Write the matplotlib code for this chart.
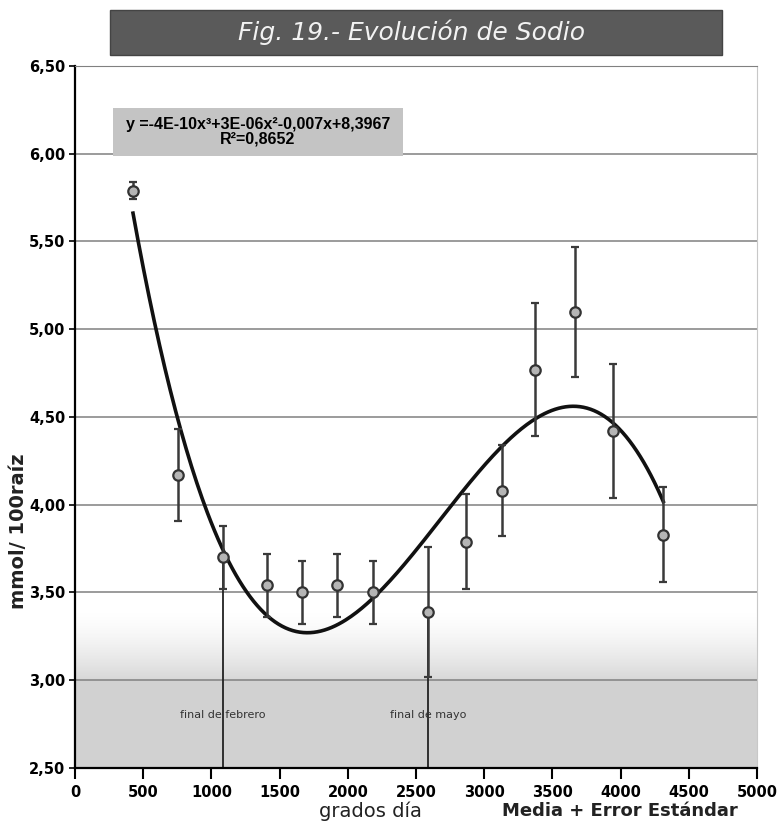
import numpy as np
import matplotlib.pyplot as plt
from matplotlib.patches import Rectangle
from matplotlib.ticker import FuncFormatter

# grados día acumulados, sodio medio (mmol/100 raíz) y error estándar
grados_dia = [425, 752, 1083, 1405, 1666, 1923, 2187, 2586, 2864, 3133, 3372, 3666, 3942, 4313]
sodio = [5.79, 4.17, 3.70, 3.54, 3.50, 3.54, 3.50, 3.39, 3.79, 4.08, 4.77, 5.10, 4.42, 3.83]
error_est = [0.05, 0.26, 0.18, 0.18, 0.18, 0.18, 0.18, 0.37, 0.27, 0.26, 0.38, 0.37, 0.38, 0.27]

# fechas de referencia (índice del muestreo que marcan)
marcas = ["final de febrero", "final de mayo"]
marcas_idx = [2, 7]

ecuacion = "y =-4E-10x³+3E-06x²-0,007x+8,3967\nR²=0,8652"

fig = plt.figure(figsize=(7.8, 8.25), dpi=100)
ax = fig.add_axes([0.0962, 0.0691, 0.8743, 0.8509])

x = np.array(grados_dia)
y = np.array(sodio)

# banda gris del fondo con degradado
ys = np.linspace(2.5, 3.4, 200)
alpha_col = np.where(ys <= 3.0, 0.8, np.clip((3.4 - ys) / 0.4, 0, 1) ** 1.5 * 0.7)
img = np.ones((200, 2, 4))
img[..., :3] = 0.78
img[..., 3] = alpha_col[:, None]
ax.imshow(img, extent=[0, 5000, 2.5, 3.4], origin="lower", aspect="auto", zorder=0,
          interpolation="bilinear")

# líneas de referencia
for txt, i in zip(marcas, marcas_idx):
    ax.plot([x[i], x[i]], [2.5, y[i]], color="#222222", lw=1.3, zorder=2)
    ax.text(x[i], 2.80, txt, ha="center", va="center", fontsize=8, color="#333333",
            zorder=3)

# línea de tendencia polinómica de grado 3
coef = np.polyfit(x, y, 3)
xs = np.linspace(x.min(), x.max(), 300)
ax.plot(xs, np.polyval(coef, xs), color="#111111", lw=2.6, zorder=4)

ax.errorbar(x, y, yerr=error_est, fmt="o", color="#3a3a3a", ecolor="#3a3a3a",
            elinewidth=1.8, capsize=3, capthick=1.5, markersize=7.5,
            markerfacecolor="#b5b5b5", markeredgecolor="#333333", markeredgewidth=1.6,
            zorder=5)

# cuadro con la ecuación
ax.add_patch(Rectangle((280, 5.99), 2125, 0.27, facecolor="#c4c4c4", edgecolor="none", zorder=3))
ax.text(1340, 6.125, ecuacion, ha="center", va="center", fontsize=11.5, fontweight="bold",
        family="Liberation Sans", linespacing=0.95, zorder=4)

ax.set_xlim(0, 5000)
ax.set_ylim(2.5, 6.5)
ax.set_xticks(np.arange(0, 5001, 500))
ax.set_yticks(np.arange(2.5, 6.51, 0.5))
ax.yaxis.set_major_formatter(FuncFormatter(lambda v, p: f"{v:.2f}".replace(".", ",")))
ax.tick_params(axis="x", length=8, width=1.5, direction="out", pad=4)
ax.tick_params(axis="y", length=4, width=1.2, direction="out", pad=3)
for lab in ax.get_xticklabels() + ax.get_yticklabels():
    lab.set_fontweight("bold")
    lab.set_fontsize(10.5)

ax.yaxis.grid(True, color="#808080", lw=1.1)
ax.set_axisbelow(True)
ax.spines["left"].set_linewidth(1.6)
ax.spines["bottom"].set_linewidth(1.6)
ax.spines["top"].set_color("#808080")
ax.spines["right"].set_color("#c8c8c8")

fig.text(19 / 780, 1 - 531 / 825, "mmol/ 100raíz", rotation=90, ha="center", va="center",
         fontsize=14, fontweight="bold", color="#222222")
fig.text(370 / 780, 1 - 811 / 825, "grados día", ha="center", va="center", fontsize=14,
         color="#222222")
fig.text(620 / 780, 1 - 811 / 825, "Media + Error Estándar", ha="center", va="center",
         fontsize=13, fontweight="bold", color="#222222")

# banda del título
fig.patches.append(Rectangle((110 / 780, 1 - 55 / 825), 612 / 780, 45 / 825,
                             transform=fig.transFigure, facecolor="#5a5a5a",
                             edgecolor="#444444", zorder=1))
fig.text(412 / 780, 1 - 32 / 825, "Fig. 19.- Evolución de Sodio", ha="center", va="center",
         fontsize=18, style="italic", color="#f2f2f2", zorder=2)

fig.savefig("out.png", dpi=100)
